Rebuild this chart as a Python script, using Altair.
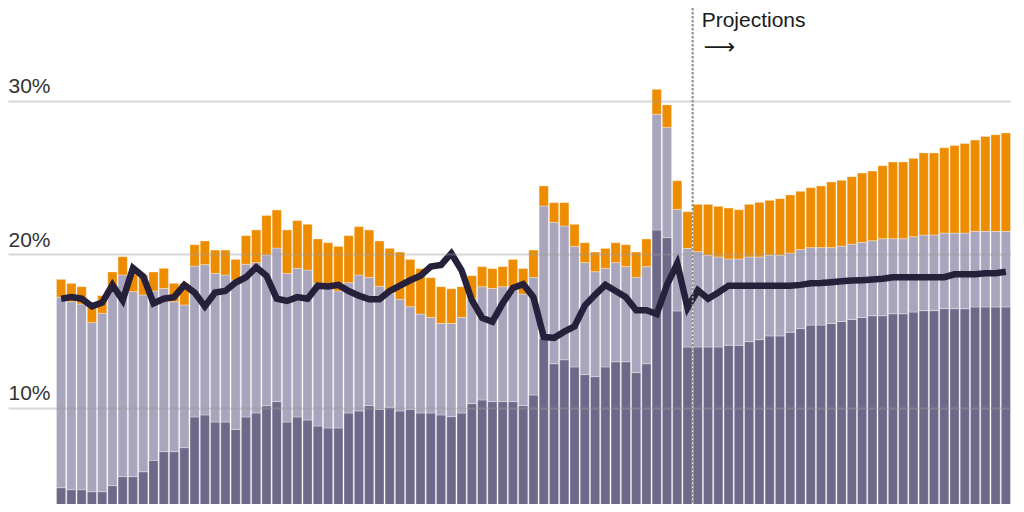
import altair as alt
import pandas as pd

years = list(range(1962, 2055))

# Tops of each stacked segment (% of GDP)
mandatory_top = [
    4.78, 4.65, 4.65, 4.52, 4.52, 4.91, 5.50, 5.50, 5.82, 6.56,
    7.13, 7.13, 7.39, 9.39, 9.52, 9.06, 9.06, 8.58, 9.39, 9.65,
    10.13, 10.39, 9.06, 9.39, 9.19, 8.80, 8.67, 8.67, 9.65, 9.78,
    10.13, 9.89, 10.02, 9.78, 9.89, 9.65, 9.65, 9.52, 9.41, 9.65,
    10.26, 10.50, 10.39, 10.39, 10.39, 10.13, 10.82, 14.52, 12.86, 13.12,
    12.65, 12.15, 12.02, 12.65, 12.99, 12.99, 12.28, 12.86, 21.58, 21.08,
    16.30, 13.95,
    13.95, 13.95, 13.95, 14.06, 14.06, 14.30, 14.43, 14.67, 14.67, 14.91,
    15.15, 15.38, 15.38, 15.49, 15.62, 15.75, 15.88, 15.99, 15.99, 16.12,
    16.12, 16.23, 16.32, 16.32, 16.45, 16.45, 16.45, 16.56, 16.56, 16.56,
    16.56,
]
discretionary_top = [
    17.20, 16.90, 16.75, 15.54, 16.15, 17.60, 18.64, 17.56, 17.34, 17.60,
    17.77, 16.90, 16.69, 19.23, 19.32, 18.75, 18.64, 18.32, 19.34, 19.45,
    19.95, 20.40, 18.75, 19.08, 18.97, 18.10, 17.75, 17.60, 18.14, 18.64,
    18.49, 17.91, 17.43, 17.06, 16.58, 16.10, 15.88, 15.49, 15.49, 15.88,
    17.10, 17.88, 17.77, 17.88, 17.88, 17.40, 18.49, 23.14, 22.08, 21.84,
    20.51, 19.45, 18.86, 19.08, 19.45, 19.19, 18.49, 19.19, 29.12, 28.27,
    22.92, 20.38,
    20.17, 19.93, 19.82, 19.69, 19.69, 19.82, 19.82, 19.93, 19.93, 20.06,
    20.30, 20.43, 20.43, 20.43, 20.53, 20.66, 20.77, 20.88, 21.01, 21.01,
    21.01, 21.14, 21.25, 21.25, 21.38, 21.38, 21.38, 21.49, 21.49, 21.49,
    21.49,
]
interest_top = [
    18.36, 18.10, 17.88, 16.60, 17.30, 18.84, 19.84, 18.70, 18.65, 18.84,
    19.08, 18.10, 18.10, 20.62, 20.86, 20.27, 20.27, 19.66, 21.21, 21.58,
    22.53, 22.88, 21.58, 22.19, 21.95, 20.99, 20.75, 20.51, 21.21, 21.80,
    21.58, 20.86, 20.38, 20.14, 19.66, 19.06, 18.47, 17.88, 17.75, 17.88,
    18.60, 19.19, 19.06, 19.19, 19.66, 19.06, 20.27, 24.45, 23.36, 23.36,
    21.95, 20.75, 20.14, 20.38, 20.75, 20.62, 20.14, 20.99, 30.75, 29.73,
    24.79, 22.77,
    23.25, 23.25, 23.12, 23.01, 22.90, 23.25, 23.38, 23.51, 23.62, 23.86,
    24.10, 24.34, 24.45, 24.71, 24.82, 25.05, 25.29, 25.42, 25.77, 26.01,
    26.01, 26.25, 26.60, 26.60, 26.94, 27.08, 27.21, 27.44, 27.68, 27.79,
    27.90,
]
revenue = [
    17.10, 17.20, 17.10, 16.60, 16.85, 18.00, 17.00, 19.10, 18.55, 16.80,
    17.10, 17.20, 18.00, 17.50, 16.60, 17.50, 17.60, 18.15, 18.50, 19.15,
    18.60, 17.10, 16.95, 17.20, 17.10, 17.95, 17.90, 18.00, 17.60, 17.30,
    17.06, 17.06, 17.60, 17.95, 18.30, 18.60, 19.20, 19.30, 20.05, 18.95,
    17.00, 15.85, 15.60, 16.80, 17.80, 18.05, 17.20, 14.60, 14.55, 14.95,
    15.30, 16.65, 17.35, 18.00, 17.60, 17.20, 16.35, 16.35, 16.10, 18.00,
    19.40, 16.50,
    17.65, 17.10, 17.50, 17.95, 17.95, 17.95, 17.95, 17.95, 17.95, 17.95,
    18.00, 18.10, 18.12, 18.17, 18.23, 18.28, 18.31, 18.35, 18.40, 18.50,
    18.50, 18.50, 18.50, 18.50, 18.50, 18.69, 18.70, 18.70, 18.76, 18.76,
    18.86,
]
categories = ["Mandatory", "Discretionary", "Net interest"]
colors = ["#6f6989", "#a9a5bd", "#ee8c00"]
y_ticks = [10, 20, 30]
projection_start = 2024
projection_label = "Projections"
arrow_label = "\u27f6"

rows = []
for i, yr in enumerate(years):
    bounds = [0.0, mandatory_top[i], discretionary_top[i], interest_top[i]]
    for k, cat in enumerate(categories):
        rows.append({"year": yr, "category": cat, "lo": bounds[k], "hi": bounds[k + 1]})
bars_df = pd.DataFrame(rows)
rev_df = pd.DataFrame({"year": years, "revenue": revenue})

FONT = "Liberation Sans"
xscale = alt.Scale(domain=[1957.33, 2055.0], nice=False, zero=False)
yscale = alt.Scale(domain=[3.716, 36.05], nice=False, zero=False)

bars = (
    alt.Chart(bars_df)
    .transform_calculate(x0="datum.year + 0.05", x1="datum.year + 0.95")
    .mark_bar(clip=True, stroke="white", strokeWidth=0.6, strokeOpacity=0.55)
    .encode(
        x=alt.X("x0:Q", scale=xscale, axis=None),
        x2="x1:Q",
        y=alt.Y(
            "lo:Q",
            scale=yscale,
            axis=alt.Axis(
                values=y_ticks,
                grid=True,
                gridColor="#9a9a9a",
                gridOpacity=0.4,
                gridWidth=2,
                domain=False,
                ticks=False,
                labelAlign="left",
                labelBaseline="alphabetic",
                labelPadding=0,
                labelOffset=-8,
                labelFont=FONT,
                labelFontSize=21,
                labelColor="#333333",
                labelExpr="datum.value + '%'",
                title=None,
                zindex=1,
            ),
        ),
        y2="hi:Q",
        color=alt.Color(
            "category:N",
            scale=alt.Scale(domain=categories, range=colors),
            legend=None,
        ),
    )
)

line = (
    alt.Chart(rev_df)
    .transform_calculate(xc="datum.year + 0.5")
    .mark_line(color="#26203b", strokeWidth=6.5, clip=True)
    .encode(
        x=alt.X("xc:Q", scale=xscale),
        y=alt.Y("revenue:Q", scale=yscale),
    )
)

rule = (
    alt.Chart(pd.DataFrame({"year": [projection_start]}))
    .mark_rule(color="#8c8c8c", strokeWidth=2, strokeDash=[2.5, 1.5])
    .encode(x=alt.X("year:Q", scale=xscale))
)

label = (
    alt.Chart(pd.DataFrame({"year": [projection_start], "t": [projection_label]}))
    .mark_text(align="left", baseline="alphabetic", dx=9, font=FONT, fontSize=21, color="#1a1a1a")
    .encode(x=alt.X("year:Q", scale=xscale), y=alt.value(19), text="t:N")
)

arrow = (
    alt.Chart(pd.DataFrame({"year": [projection_start], "t": [arrow_label]}))
    .mark_text(align="left", baseline="middle", dx=11, font="DejaVu Sans", fontSize=22, color="#1a1a1a")
    .encode(x=alt.X("year:Q", scale=xscale), y=alt.value(39), text="t:N")
)

chart = (
    alt.layer(bars, line, rule, label, arrow)
    .properties(width=1003, height=496, padding=0, autosize=alt.AutoSizeParams(type="none"))
    .configure_view(stroke=None)
)

chart.save("out.html", embed_options={"renderer": "svg", "actions": False})
